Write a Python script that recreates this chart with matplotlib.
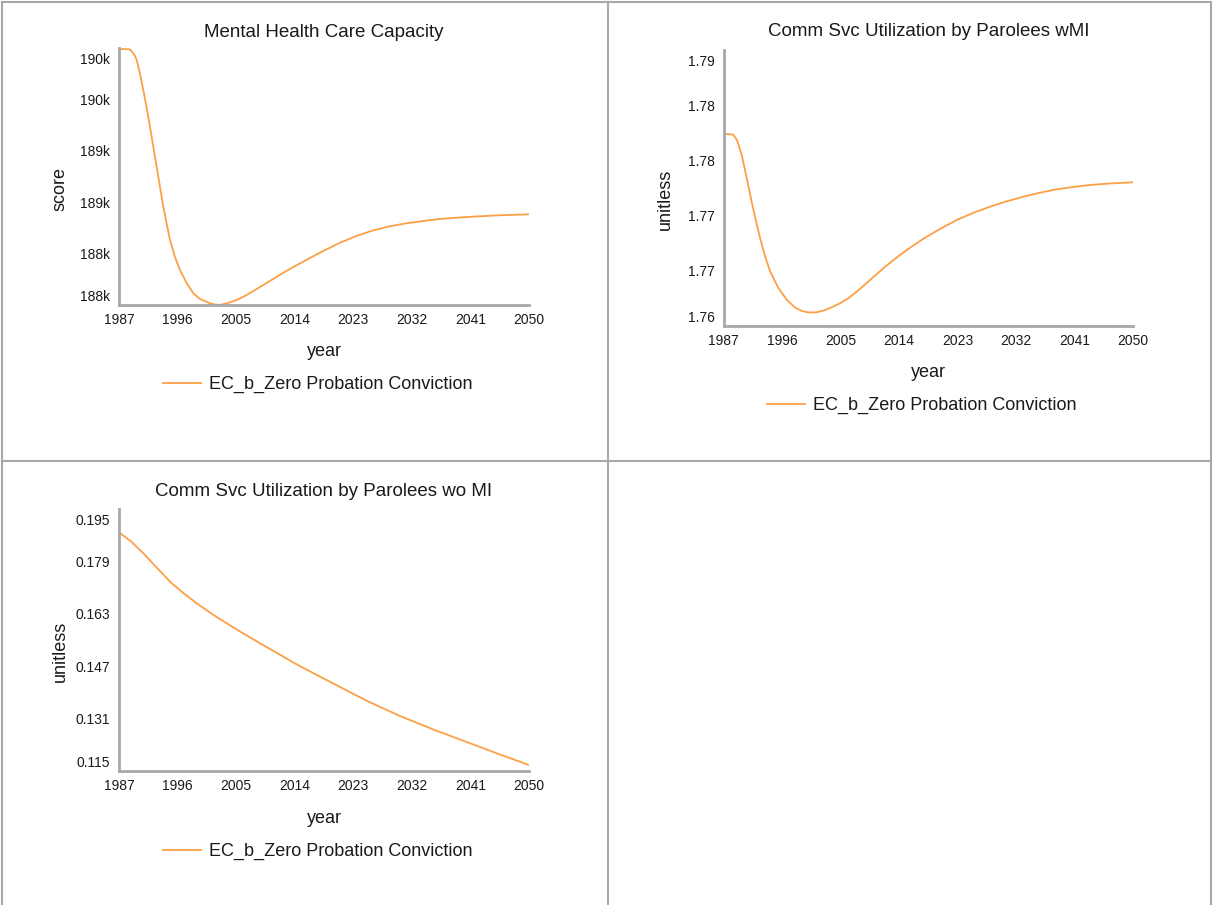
# -*- coding: utf-8 -*-
"""
三联小图：心理健康服务容量 / 假释人员社区服务使用率（有无精神疾病）
输出：out.png
"""
import numpy as np
import matplotlib
matplotlib.use("Agg")
import matplotlib.pyplot as plt
from matplotlib.lines import Line2D
from matplotlib.transforms import ScaledTranslation

plt.rcParams["font.family"] = ["Liberation Sans", "DejaVu Sans"]

SERIES = "EC_b_Zero Probation Conviction"
LINE_COLOR = "#fd9f45"
AXIS_COLOR = "#a8a8a8"
TEXT_COLOR = "#1a1a1a"

XTICKS = [1987, 1996, 2005, 2014, 2023, 2032, 2041, 2050]

# ---- Mental Health Care Capacity ----
mh_years = [1987, 1988.08, 1988.69, 1988.92, 1989.2, 1989.46, 1989.72, 1990.23,
            1990.73, 1991.26, 1991.76, 1992.27, 1992.79, 1993.3, 1993.81, 1994.33,
            1994.84, 1995.6, 1996.37, 1997.4, 1998.42, 1999.45, 2000.98, 2001.75,
            2002.52, 2003.75, 2005.09, 2006.36, 2007.64, 2008.93, 2010.2, 2012.0,
            2013.8, 2015.8, 2018.3, 2020.9, 2023.5, 2026.0, 2028.6, 2031.2, 2033.8,
            2036.3, 2038.8, 2041.4, 2045.5, 2050]
mh_values = [190190, 190190, 190186, 190172, 190151, 190125, 190088, 189957,
             189808, 189640, 189465, 189278, 189092, 188902, 188718, 188556,
             188407, 188248, 188127, 188005, 187909, 187856, 187816, 187805,
             187800, 187819, 187847, 187885, 187930, 187978, 188025, 188092,
             188155, 188222, 188302, 188380, 188445, 188496, 188535, 188563, 188585,
             188603, 188615, 188625, 188638, 188647]
mh_ylim = (187800, 190200)
mh_yticklabels = ["188k", "188k", "189k", "189k", "190k", "190k"]

# ---- Comm Svc Utilization by Parolees wMI ----
wmi_years = [1987, 1988.46, 1989.08, 1989.8, 1990.31, 1990.82, 1991.34, 1991.85,
             1992.62, 1993.38, 1994.15, 1995.43, 1996.77, 1998.0, 1999.08, 2000.15,
             2001.23, 2002.35, 2003.38, 2004.92, 2006.2, 2007.49, 2008.77, 2010.05,
             2012.0, 2014.15, 2015.85, 2017.74, 2020.31, 2022.88, 2025.38, 2028.0,
             2030.46, 2033.12, 2035.69, 2038.26, 2040.77, 2043.38, 2046.46, 2050]
wmi_values = [1.779883, 1.779838, 1.779339, 1.777979, 1.776619, 1.775168, 1.773717,
              1.772357, 1.770453, 1.768820, 1.767460, 1.765919, 1.764830, 1.764150,
              1.763833, 1.763697, 1.763715, 1.763860, 1.764105, 1.764531, 1.764990,
              1.765583, 1.766236, 1.766916, 1.767914, 1.768911, 1.769637, 1.770380,
              1.771270, 1.772085, 1.772720, 1.773291, 1.773763, 1.774198, 1.774560,
              1.774869, 1.775077, 1.775259, 1.775395, 1.775503]
wmi_ylim = (1.7625, 1.7875)
wmi_yticklabels = ["1.76", "1.77", "1.77", "1.78", "1.78", "1.79"]

# ---- Comm Svc Utilization by Parolees wo MI ----
womi_years = [1987, 1988.95, 1990.73, 1992.79, 1994.84, 1996.88, 1998.94, 2001.24,
              2003.55, 2006.1, 2008.67, 2011.23, 2013.78, 2016.86, 2019.93, 2025.06,
              2030.18, 2035.29, 2040.43, 2045.54, 2050]
womi_values = [0.187885, 0.184923, 0.181473, 0.177137, 0.172801, 0.169351, 0.166206,
               0.163000, 0.160099, 0.156984, 0.153992, 0.151091, 0.148129, 0.144862,
               0.141717, 0.136435, 0.131794, 0.127672, 0.123855, 0.120038, 0.116832]
womi_ylim = (0.115, 0.195)
womi_yticklabels = ["0.115", "0.131", "0.147", "0.163", "0.179", "0.195"]


def panel(fig, rect, title, ylabel, years, values, ylim, yticklabels,
          title_y, xlabel_y, legend_y, ylabel_y):
    ax = fig.add_axes(rect)
    ax.plot(years, values, color=LINE_COLOR, lw=1.3, label=SERIES,
            solid_joinstyle="round")
    ax.set_xlim(XTICKS[0], XTICKS[-1])
    ax.set_ylim(*ylim)
    ax.set_xticks(XTICKS)
    ax.set_yticks(np.linspace(ylim[0], ylim[1], len(yticklabels)))
    ax.set_yticklabels(yticklabels)

    for s in ("top", "right"):
        ax.spines[s].set_visible(False)
    for s in ("left", "bottom"):
        ax.spines[s].set_color(AXIS_COLOR)
        ax.spines[s].set_linewidth(2.0)
    ax.tick_params(axis="both", length=0, labelsize=10, colors=TEXT_COLOR)
    ax.tick_params(axis="x", pad=6)
    ax.tick_params(axis="y", pad=6.5)

    # 两端刻度标签往内收
    labs = ax.get_yticklabels()
    labs[0].set_transform(labs[0].get_transform()
                          + ScaledTranslation(0, 6.5 / 72, fig.dpi_scale_trans))
    labs[-1].set_transform(labs[-1].get_transform()
                           + ScaledTranslation(0, -7.5 / 72, fig.dpi_scale_trans))

    ax.text(0.5, title_y, title, transform=ax.transAxes, ha="center", va="center",
            fontsize=13.5, color=TEXT_COLOR)
    ax.set_xlabel("year", fontsize=13, color=TEXT_COLOR)
    ax.xaxis.set_label_coords(0.5, xlabel_y)
    ax.xaxis.label.set_va("center")
    ax.set_ylabel(ylabel, fontsize=13, color=TEXT_COLOR)
    ax.yaxis.set_label_coords(-0.143, ylabel_y)
    ax.yaxis.label.set_va("center")

    ax.legend(loc="center", bbox_to_anchor=(0.484, legend_y), frameon=False,
              fontsize=13, handlelength=2.1, handletextpad=0.45,
              labelcolor=TEXT_COLOR)
    return ax


def frame(fig):
    W, H = 1212.0, 905.0
    segs = [((2, 1211), (2, 2)),          # top
            ((2.5, 2.5), (2, 461)),       # left, upper cell
            ((2.5, 2.5), (461, 905)),     # left, lower cell
            ((1210.5, 1210.5), (2, 905)), # right
            ((2, 1211), (461, 461)),      # middle horizontal
            ((608, 608), (2, 905))]       # middle vertical
    for xs, ys in segs:
        fig.add_artist(Line2D([x / W for x in xs], [1 - y / H for y in ys],
                              transform=fig.transFigure, color=AXIS_COLOR, lw=1.5))


def main():
    fig = plt.figure(figsize=(12.12, 9.05), dpi=100)
    fig.patch.set_facecolor("white")

    panel(fig, [119 / 1212, 1 - 305 / 905, 410 / 1212, 257 / 905],
          "Mental Health Care Capacity", "score", mh_years, mh_values,
          mh_ylim, mh_yticklabels,
          title_y=1.062, xlabel_y=-0.18, legend_y=-0.31, ylabel_y=0.451)
    panel(fig, [723.5 / 1212, 1 - 325.7 / 905, 409.5 / 1212, 275.7 / 905],
          "Comm Svc Utilization by Parolees wMI", "unitless", wmi_years, wmi_values,
          wmi_ylim, wmi_yticklabels,
          title_y=1.067, xlabel_y=-0.17, legend_y=-0.29, ylabel_y=0.46)
    panel(fig, [119 / 1212, 1 - 771 / 905, 410 / 1212, 262 / 905],
          "Comm Svc Utilization by Parolees wo MI", "unitless", womi_years, womi_values,
          womi_ylim, womi_yticklabels,
          title_y=1.067, xlabel_y=-0.18, legend_y=-0.307, ylabel_y=0.458)

    frame(fig)
    fig.savefig("out.png", dpi=100)


if __name__ == "__main__":
    main()
